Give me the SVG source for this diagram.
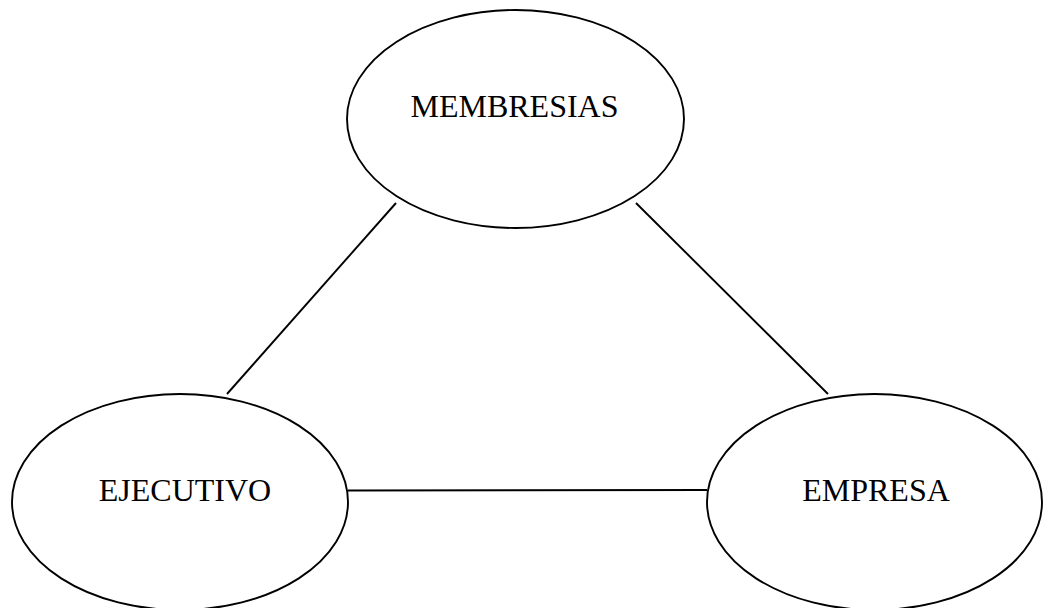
<svg xmlns="http://www.w3.org/2000/svg" width="1043" height="608" viewBox="0 0 1043 608">
<style>
.n{fill:#fff;stroke:#000;stroke-width:1.9}
.t{font-family:"Liberation Serif","Times New Roman",serif;font-size:32px;fill:#000;text-anchor:middle}
.c{stroke:#000;stroke-width:1.9;fill:none}
</style>
<rect width="1043" height="608" fill="#fff"/>
<g id="connectors">
<line class="c" x1="396" y1="203" x2="227" y2="394"/>
<line class="c" x1="636" y1="203" x2="828" y2="394"/>
<line class="c" x1="348" y1="490.5" x2="707" y2="490"/>
</g>
<g id="membresias">
<ellipse class="n" cx="515.5" cy="119" rx="168.5" ry="109"/>
<text class="t" x="514.5" y="117">MEMBRESIAS</text>
</g>
<g id="ejecutivo">
<ellipse class="n" cx="180" cy="502" rx="168" ry="108"/>
<text class="t" x="185" y="501">EJECUTIVO</text>
</g>
<g id="empresa">
<ellipse class="n" cx="874.5" cy="502" rx="167.5" ry="108"/>
<text class="t" x="876" y="501">EMPRESA</text>
</g>
</svg>
